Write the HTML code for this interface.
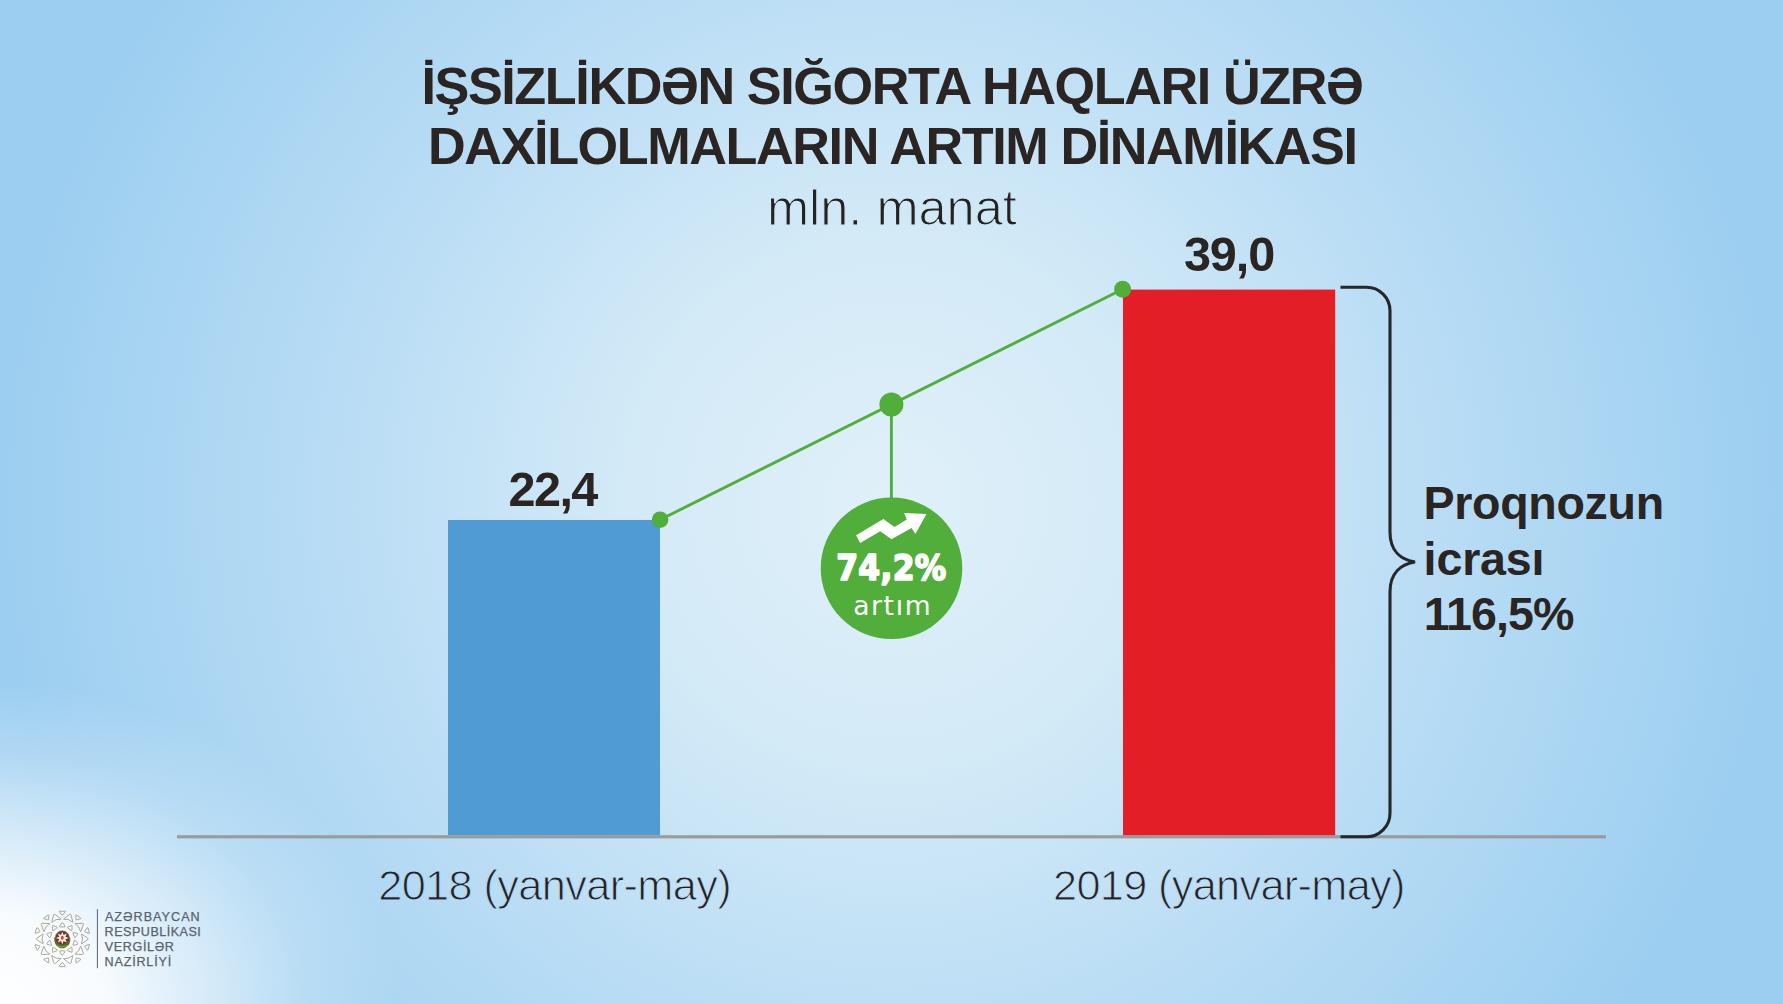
<!DOCTYPE html>
<html lang="az">
<head>
<meta charset="utf-8">
<title>İşsizlikdən sığorta haqları üzrə daxilolmaların artım dinamikası</title>
<style>
html,body{margin:0;padding:0;}
body{width:1783px;height:1004px;overflow:hidden;background:#9ccef1;font-family:"Liberation Sans",sans-serif;}
#stage{position:relative;width:1783px;height:1004px;overflow:hidden;
  background:
    radial-gradient(ellipse 420px 330px at -20px 1010px, rgba(255,255,255,1) 0, rgba(255,255,255,.93) 30%, rgba(255,255,255,.56) 55%, rgba(255,255,255,.2) 78%, rgba(255,255,255,0) 100%),
    radial-gradient(circle 892px at 891px 502px, #e0f0f9 0, #d3eaf7 30%, #bcdef5 58%, #a7d4f2 85%, #9ccef1 100%);
}
svg{position:absolute;left:0;top:0;}
text{font-family:"Liberation Sans",sans-serif;}
.t{font-weight:700;fill:#2a2422;}
.l{font-weight:400;fill:#262223;stroke:url(#bg);paint-order:fill stroke;}
</style>
</head>
<body>
<div id="stage">
<svg width="1783" height="1004" viewBox="0 0 1783 1004">
  <defs>
    <radialGradient id="bg" gradientUnits="userSpaceOnUse" cx="891" cy="502" r="892">
      <stop offset="0" stop-color="#e0f0f9"/><stop offset=".3" stop-color="#d3eaf7"/><stop offset=".58" stop-color="#bcdef5"/><stop offset=".85" stop-color="#a7d4f2"/><stop offset="1" stop-color="#9ccef1"/>
    </radialGradient>
  </defs>
  <!-- title -->
  <text id="t1" class="t" x="421.4" y="103.8" font-size="52.2" style="letter-spacing:-1.41px">İŞSİZLİKDƏN SIĞORTA HAQLARI ÜZRƏ</text>
  <text id="t2" class="t" x="428.1" y="164.4" font-size="52.2" style="letter-spacing:-1.41px">DAXİLOLMALARIN ARTIM DİNAMİKASI</text>
  <text id="t3" class="l" x="767" y="225.2" font-size="50.6" stroke-width="1.2" style="letter-spacing:-.05px">mln. manat</text>

  <!-- axis -->
  <rect x="177" y="835.2" width="1429" height="3.2" fill="#9a9b9d"/>

  <!-- bars -->
  <rect x="448" y="520" width="212" height="315.2" fill="#519bd5"/>
  <rect x="1123" y="289.6" width="212.2" height="545.6" fill="#e41e26"/>

  <!-- values -->
  <text id="v1" class="t" x="508.5" y="506" font-size="48.6" style="letter-spacing:-1.57px">22,4</text>
  <text id="v2" class="t" x="1183.9" y="271.4" font-size="48.6" style="letter-spacing:-1.07px">39,0</text>

  <!-- trend -->
  <g stroke="#52ae3a" stroke-width="2.9" fill="none">
    <line x1="660.1" y1="519.7" x2="1122.6" y2="289.3"/>
    <line x1="891.4" y1="405" x2="891.4" y2="500"/>
  </g>
  <g fill="#52ae3a">
    <circle cx="660.1" cy="519.7" r="8.3"/>
    <circle cx="1122.6" cy="289.3" r="8.5"/>
    <circle cx="891.4" cy="404.6" r="12"/>
    <circle cx="891.5" cy="568.3" r="70.8"/>
  </g>

  <!-- badge -->
  <path id="arrow" fill="#fff" d="M856.1 535.3 L883.4 518.9 L894.5 527 L906.8 519.6 L904.1 513.1 L926.5 514.1 L915.4 534 L911.6 528 L891.4 539.3 L880.3 531.2 L860.1 542.9 Z"/>
  <text id="b1" x="836.2" y="579.9" font-size="34.9" font-weight="700" fill="#fff" stroke="#fff" stroke-width="1.6" stroke-linejoin="round" style="font-family:'DejaVu Sans Condensed','DejaVu Sans','Liberation Sans',sans-serif;letter-spacing:.3px">74,2%</text>
  <text id="b2" x="853.2" y="614.6" font-size="26.6" fill="#fff" style="font-family:'DejaVu Sans','Liberation Sans',sans-serif;letter-spacing:1.6px">artım</text>

  <!-- bracket -->
  <path fill="none" stroke="#26272a" stroke-width="3.1" stroke-linecap="butt"
    d="M1340.5 287.3 H1366.5 A23.5 23.5 0 0 1 1390 310.8 V532 C1390 552 1402 560 1415 562 C1402 564 1390 572 1390 592 V813.2 A23.5 23.5 0 0 1 1366.5 836.7 H1340.5"/>

  <!-- side text -->
  <text id="s1" class="t" x="1423.6" y="518.7" font-size="46.6" style="letter-spacing:-.34px">Proqnozun</text>
  <text id="s2" class="t" x="1423.6" y="574.5" font-size="46.6" style="letter-spacing:-.16px">icrası</text>
  <text id="s3" class="t" x="1423.7" y="629.9" font-size="46.6" style="letter-spacing:-.94px">116,5%</text>

  <!-- axis labels -->
  <text id="a1" class="l" x="378.2" y="900.4" font-size="43.3" stroke-width="1.05" style="letter-spacing:-.62px">2018 (yanvar-may)</text>
  <text id="a2" class="l" x="1053.1" y="900.4" font-size="43.3" stroke-width="1.05" style="letter-spacing:-.69px">2019 (yanvar-may)</text>

  <!-- logo -->
  <g id="logo">
<path d="M61.81 922.86 Q62.30 922.10 62.79 922.86 L64.91 926.14 Q65.40 926.90 64.50 926.90 L60.10 926.90 Q59.20 926.90 59.69 926.14 Z M71.34 925.63 Q72.17 925.31 72.13 926.21 L71.91 930.12 Q71.86 931.01 71.13 930.48 L67.57 927.90 Q66.85 927.37 67.68 927.05 Z M77.41 933.48 Q78.28 933.71 77.71 934.41 L75.24 937.44 Q74.67 938.14 74.39 937.28 L73.03 933.10 Q72.75 932.24 73.62 932.47 Z M77.71 943.39 Q78.28 944.09 77.41 944.32 L73.62 945.33 Q72.75 945.56 73.03 944.70 L74.39 940.52 Q74.67 939.66 75.24 940.36 Z M72.13 951.59 Q72.17 952.49 71.34 952.17 L67.68 950.75 Q66.85 950.43 67.57 949.90 L71.13 947.32 Q71.86 946.79 71.91 947.68 Z M62.79 954.94 Q62.30 955.70 61.81 954.94 L59.69 951.66 Q59.20 950.90 60.10 950.90 L64.50 950.90 Q65.40 950.90 64.91 951.66 Z M53.26 952.17 Q52.43 952.49 52.47 951.59 L52.69 947.68 Q52.74 946.79 53.47 947.32 L57.03 949.90 Q57.75 950.43 56.92 950.75 Z M47.19 944.32 Q46.32 944.09 46.89 943.39 L49.36 940.36 Q49.93 939.66 50.21 940.52 L51.57 944.70 Q51.85 945.56 50.98 945.33 Z M46.89 934.41 Q46.32 933.71 47.19 933.48 L50.98 932.47 Q51.85 932.24 51.57 933.10 L50.21 937.28 Q49.93 938.14 49.36 937.44 Z M52.47 926.21 Q52.43 925.31 53.26 925.63 L56.92 927.05 Q57.75 927.37 57.03 927.90 L53.47 930.48 Q52.74 931.01 52.69 930.12 Z M61.76 914.98 Q62.30 915.70 62.84 914.98 L65.16 911.92 Q65.70 911.20 64.80 911.20 L59.80 911.20 Q58.90 911.20 59.44 911.92 Z M75.92 919.23 Q75.94 920.13 76.80 919.87 L80.47 918.75 Q81.33 918.49 80.60 917.96 L76.56 915.02 Q75.83 914.49 75.85 915.39 Z M84.88 930.99 Q84.36 931.73 85.22 932.02 L88.84 933.28 Q89.69 933.57 89.42 932.72 L87.87 927.96 Q87.59 927.11 87.08 927.84 Z M85.22 945.78 Q84.36 946.07 84.88 946.81 L87.08 949.96 Q87.59 950.69 87.87 949.84 L89.42 945.08 Q89.69 944.23 88.84 944.52 Z M76.80 957.93 Q75.94 957.67 75.92 958.57 L75.85 962.41 Q75.83 963.31 76.56 962.78 L80.60 959.84 Q81.33 959.31 80.47 959.05 Z M62.84 962.82 Q62.30 962.10 61.76 962.82 L59.44 965.88 Q58.90 966.60 59.80 966.60 L64.80 966.60 Q65.70 966.60 65.16 965.88 Z M48.68 958.57 Q48.66 957.67 47.80 957.93 L44.13 959.05 Q43.27 959.31 44.00 959.84 L48.04 962.78 Q48.77 963.31 48.75 962.41 Z M39.72 946.81 Q40.24 946.07 39.38 945.78 L35.76 944.52 Q34.91 944.23 35.18 945.08 L36.73 949.84 Q37.01 950.69 37.52 949.96 Z M39.38 932.02 Q40.24 931.73 39.72 930.99 L37.52 927.84 Q37.01 927.11 36.73 927.96 L35.18 932.72 Q34.91 933.57 35.76 933.28 Z M47.80 919.87 Q48.66 920.13 48.68 919.23 L48.75 915.39 Q48.77 914.49 48.04 915.02 L44.00 917.96 Q43.27 918.49 44.13 918.75 Z M69.40 914.48 Q70.52 913.60 70.91 914.97 L72.81 921.65 Q73.12 922.75 72.27 921.93 Q68.88 918.64 64.21 919.31 Q63.04 919.48 63.94 918.77 Z M82.39 923.32 Q83.82 923.26 83.33 924.60 L80.94 931.12 Q80.54 932.20 80.34 931.03 Q79.53 926.38 75.36 924.17 Q74.31 923.62 75.45 923.58 Z M87.72 938.11 Q88.90 938.90 87.72 939.69 L81.95 943.56 Q81.00 944.20 81.52 943.14 Q83.60 938.90 81.52 934.66 Q81.00 933.60 81.95 934.24 Z M83.33 953.20 Q83.82 954.54 82.39 954.48 L75.45 954.22 Q74.31 954.18 75.36 953.63 Q79.53 951.42 80.34 946.77 Q80.54 945.60 80.94 946.68 Z M70.91 962.83 Q70.52 964.20 69.40 963.32 L63.94 959.03 Q63.04 958.32 64.21 958.49 Q68.88 959.16 72.27 955.87 Q73.12 955.05 72.81 956.15 Z M55.20 963.32 Q54.08 964.20 53.69 962.83 L51.79 956.15 Q51.48 955.05 52.33 955.87 Q55.72 959.16 60.39 958.49 Q61.56 958.32 60.66 959.03 Z M42.21 954.48 Q40.78 954.54 41.27 953.20 L43.66 946.68 Q44.06 945.60 44.26 946.77 Q45.07 951.42 49.24 953.63 Q50.29 954.18 49.15 954.22 Z M36.88 939.69 Q35.70 938.90 36.88 938.11 L42.65 934.24 Q43.60 933.60 43.08 934.66 Q41.00 938.90 43.08 943.14 Q43.60 944.20 42.65 943.56 Z M41.27 924.60 Q40.78 923.26 42.21 923.32 L49.15 923.58 Q50.29 923.62 49.24 924.17 Q45.07 926.38 44.26 931.03 Q44.06 932.20 43.66 931.12 Z M53.69 914.97 Q54.08 913.60 55.20 914.48 L60.66 918.77 Q61.56 919.48 60.39 919.31 Q55.72 918.64 52.33 921.93 Q51.48 922.75 51.79 921.65 Z" fill="none" stroke="#928b77" stroke-width="0.75" stroke-linejoin="round"/>
<path d="M54.4 937.5 C53.3 945.0 58.8 948.3 62.3 948.3 C65.8 948.3 71.3 945.0 70.2 937.5 Z" fill="#44732a"/>
<path d="M56.3 945.2 Q62.3 948.6 68.3 945.2" fill="none" stroke="#9aa53a" stroke-width="1"/>
<circle cx="62.3" cy="938.0" r="7.2" fill="#7c3327"/>
<circle cx="62.3" cy="938.0" r="7.2" fill="none" stroke="#5c7f3a" stroke-width="0.8" opacity=".7"/>
<polygon points="62.30,931.70 63.56,934.95 66.75,933.55 65.35,936.74 68.60,938.00 65.35,939.26 66.75,942.45 63.56,941.05 62.30,944.30 61.04,941.05 57.85,942.45 59.25,939.26 56.00,938.00 59.25,936.74 57.85,933.55 61.04,934.95" fill="#fdf6ea"/>
<ellipse cx="62.3" cy="937.8" rx="1.5" ry="2.1" fill="#d8405a"/>
</g>
  <rect x="96.9" y="909.2" width="1" height="59" fill="#59616a"/>
  <g id="logotext" fill="#59626b" stroke="#59626b" stroke-width=".25" font-size="12.6">
    <text x="104.9" y="920.7" style="letter-spacing:1.03px">AZƏRBAYCAN</text>
    <text x="104.6" y="935.7" style="letter-spacing:.48px">RESPUBLİKASI</text>
    <text x="104.8" y="951.1" style="letter-spacing:.61px">VERGİLƏR</text>
    <text x="104.6" y="966.1" style="letter-spacing:.8px">NAZİRLİYİ</text>
  </g>
</svg>
</div>
</body>
</html>
